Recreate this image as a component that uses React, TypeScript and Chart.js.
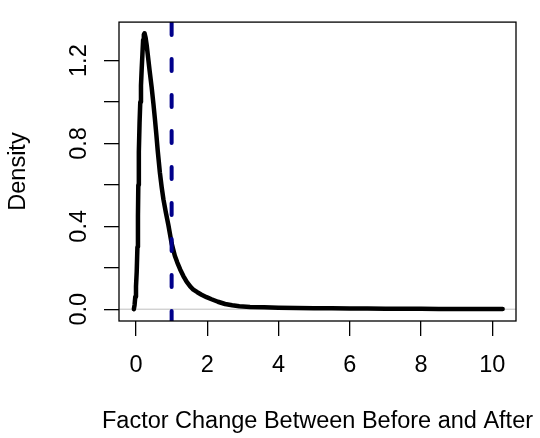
import React, { useEffect, useRef } from "react";
import { Chart, registerables } from "chart.js";

Chart.register(...registerables);

// Density curve
const densityX = [
  -0.06, -0.04, -0.02, 0.0, 0.02, 0.04, 0.055, 0.065, 0.08, 0.1, 0.12, 0.14, 0.16, 0.18, 0.2, 0.22,
  0.24, 0.27, 0.3, 0.33, 0.38, 0.44, 0.49, 0.53, 0.57, 0.61, 0.67, 0.72, 0.77, 0.84, 0.91, 1.0,
  1.09, 1.16, 1.24, 1.33, 1.42, 1.52, 1.61, 1.72, 1.84, 1.98, 2.12, 2.3, 2.5, 2.7, 2.9, 3.2, 3.6,
  4.0, 4.5, 5.0, 5.5, 6.0, 6.5, 7.0, 7.5, 8.0, 8.5, 9.0, 9.5, 10.0, 10.29,
];
const densityY = [
  0.0, 0.02, 0.06, 0.11, 0.18, 0.3, 0.45, 0.6, 0.76, 0.9, 1.0, 1.08, 1.16, 1.23, 1.3, 1.325,
  1.332, 1.31, 1.275, 1.23, 1.155, 1.07, 0.99, 0.92, 0.845, 0.765, 0.66, 0.59, 0.53, 0.465, 0.405, 0.318,
  0.258, 0.225, 0.192, 0.16, 0.133, 0.11, 0.094, 0.082, 0.07, 0.058, 0.048, 0.036, 0.025, 0.019, 0.014, 0.011, 0.009,
  0.007, 0.006, 0.005, 0.004, 0.0035, 0.003, 0.0025, 0.002, 0.0018, 0.0015, 0.0012, 0.001, 0.0008, 0.0005,
];

// Reference line (vertical) at factor change = 1
const refLineX = 1;

// Axes
const xMin = -0.477;
const xMax = 10.665;
const yMin = -0.057;
const yMax = 1.386;
const xTicks = [0, 2, 4, 6, 8, 10];
const xTickLabels = ["0", "2", "4", "6", "8", "10"];
const yTicks = [0, 0.2, 0.4, 0.6, 0.8, 1.0, 1.2];
const yTickLabels = ["0.0", "", "0.4", "", "0.8", "", "1.2"];
const xTitle = "Factor Change Between Before and After";
const yTitle = "Density";

const FONT = "'Liberation Sans', Arial, Helvetica, sans-serif";
const FSIZE = 23.5;

export default function App() {
  const ref = useRef<HTMLCanvasElement | null>(null);

  useEffect(() => {
    if (!ref.current) return;
    const boxPlugin = {
      id: "rbox",
      afterDraw(chart: any) {
        const { ctx, chartArea } = chart;
        ctx.save();
        ctx.strokeStyle = "#000";
        ctx.lineWidth = 1.3;
        ctx.strokeRect(chartArea.left, chartArea.top, chartArea.right - chartArea.left, chartArea.bottom - chartArea.top);
        // x-axis title (drawn without width compression, like R's mtext)
        ctx.fillStyle = "#000";
        ctx.font = `${FSIZE}px ${FONT}`;
        ctx.textAlign = "center";
        ctx.textBaseline = "middle";
        ctx.fillText(xTitle, (chartArea.left + chartArea.right) / 2, chart.height - 16);
        ctx.restore();
      },
    };

    const chart = new Chart(ref.current, {
      type: "scatter",
      data: {
        datasets: [
          {
            data: [
              { x: refLineX, y: yMin },
              { x: refLineX, y: yMax },
            ],
            showLine: true,
            borderColor: "#00008B",
            borderWidth: 4,
            borderDash: [12, 24],
            borderDashOffset: 2,
            borderCapStyle: "round",
            pointRadius: 0,
          },
          {
            data: densityX.map((x, i) => ({ x, y: densityY[i] })),
            showLine: true,
            borderColor: "#000",
            borderWidth: 4.5,
            borderCapStyle: "round",
            borderJoinStyle: "round",
            tension: 0,
            pointRadius: 0,
          },
          {
            data: [
              { x: xMin, y: 0 },
              { x: xMax, y: 0 },
            ],
            showLine: true,
            borderColor: "#BEBEBE",
            borderWidth: 1,
            pointRadius: 0,
          },
        ],
      } as any,
      options: {
        animation: false,
        responsive: false,
        devicePixelRatio: 1,
        layout: { padding: { top: 9, right: 24, left: 0, bottom: 0 } },
        plugins: { legend: { display: false }, tooltip: { enabled: false } },
        scales: {
          x: {
            type: "linear",
            position: "bottom",
            min: xMin,
            max: xMax,
            afterBuildTicks: (s: any) => {
              s.ticks = xTicks.map((v) => ({ value: v }));
            },
            afterFit: (s: any) => {
              s.height = 117;
            },
            ticks: {
              autoSkip: false,
              maxRotation: 0,
              minRotation: 0,
              padding: 15,
              color: "#000",
              font: { family: FONT, size: FSIZE },
              callback: (_v: any, i: number) => xTickLabels[i],
            },
            grid: {
              drawOnChartArea: false,
              drawTicks: true,
              tickLength: 15,
              color: "#000",
              lineWidth: 1.3,
            },
            border: { display: false },
            title: { display: false },
          },
          y: {
            type: "linear",
            position: "left",
            min: yMin,
            max: yMax,
            afterBuildTicks: (s: any) => {
              s.ticks = yTicks.map((v) => ({ value: v }));
            },
            afterFit: (s: any) => {
              s.width = 119;
            },
            ticks: {
              autoSkip: false,
              minRotation: 90,
              maxRotation: 90,
              crossAlign: "center",
              padding: 8,
              color: "#000",
              font: { family: FONT, size: FSIZE },
              callback: (_v: any, i: number) => yTickLabels[i],
            },
            grid: {
              drawOnChartArea: false,
              drawTicks: true,
              tickLength: 15,
              color: "#000",
              lineWidth: 1.3,
            },
            border: { display: false },
            title: {
              display: true,
              text: yTitle,
              color: "#000",
              font: { family: FONT, size: FSIZE },
              padding: { top: 4, bottom: 0 },
            },
          },
        },
      } as any,
      plugins: [boxPlugin],
    });
    return () => chart.destroy();
  }, []);

  return (
    <div style={{ position: "absolute", left: 0, top: 0, width: 540, height: 438, background: "#fff" }}>
      <canvas ref={ref} width={540} height={438} style={{ width: 540, height: 438 }} />
    </div>
  );
}
